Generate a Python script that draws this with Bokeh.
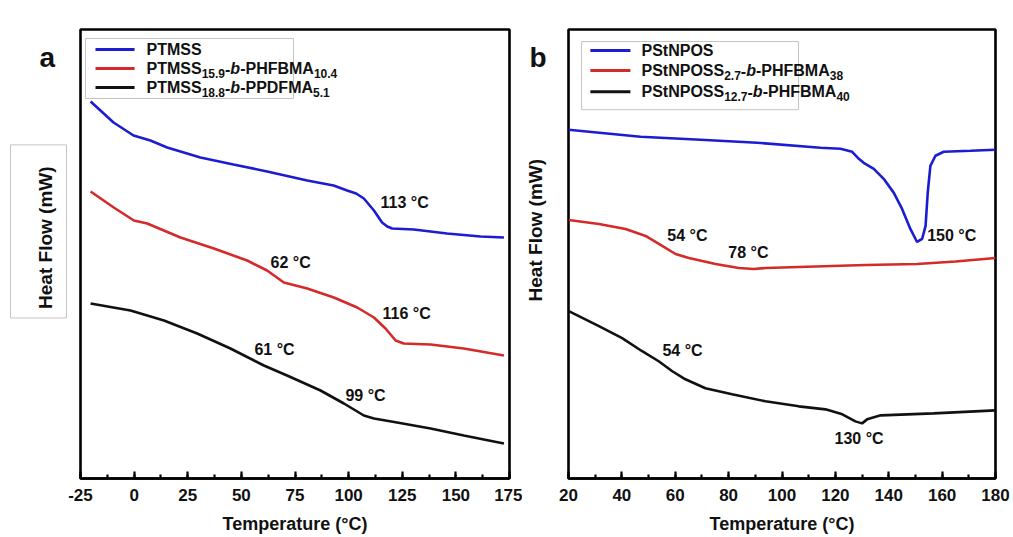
import numpy as np
from bokeh.plotting import figure
from bokeh.layouts import row
from bokeh.models import Range1d, SingleIntervalTicker, PrintfTickFormatter
from bokeh.core.properties import value
from bokeh.embed import file_html
from bokeh.resources import INLINE

# ---------------- data: panel a ----------------
a_temp_blue = [-20.3, -15.7, -9.6, -1.7, -0.3, 7.6, 15.4, 30.9, 46.3, 62, 80.7, 93, 99.3, 103.5,
               107.1, 111.8, 115.6, 118, 120.3, 130.4, 145.9, 161.5, 172.4]
a_hf_blue = [37.7, 36.8, 35.6, 34.5, 34.3, 33.8, 33.1, 32.1, 31.4, 30.7, 29.8, 29.3, 28.8, 28.5,
             28.0, 26.8, 25.6, 25.2, 25.0, 24.9, 24.5, 24.2, 24.1]
a_temp_red = [-20.3, -9.5, -0.1, 6.1, 21.6, 37.2, 52.7, 62.0, 69.8, 80.7, 93.1, 104.0, 111.8,
              117.2, 121.9, 125.7, 138.2, 153.7, 172.4]
a_hf_red = [28.7, 27.1, 25.8, 25.5, 24.1, 23.0, 21.8, 20.8, 19.6, 19.0, 18.1, 17.1, 16.1, 15.0,
            13.8, 13.5, 13.4, 13.0, 12.3]
a_temp_black = [-20.3, -1.7, 13.9, 29.4, 44.9, 60.5, 71.3, 86.9, 97.8, 107.1, 111.8, 122.6,
                138.2, 153.7, 172.4]
a_hf_black = [17.5, 16.8, 15.8, 14.5, 13.0, 11.3, 10.3, 8.8, 7.5, 6.3, 6.0, 5.6, 5.0, 4.3, 3.5]

a_names = [
    [("PTMSS", "n")],
    [("PTMSS", "n"), ("15.9", "s"), ("-", "n"), ("b", "i"), ("-PHFBMA", "n"), ("10.4", "s")],
    [("PTMSS", "n"), ("18.8", "s"), ("-", "n"), ("b", "i"), ("-PPDFMA", "n"), ("5.1", "s")],
]
a_notes = ["113 °C", "62 °C", "116 °C", "61 °C", "99 °C"]

# ---------------- data: panel b ----------------
b_temp_blue = [20, 47, 69.5, 90.7, 114.4, 121.9, 126.3, 128.8, 130.6, 134.4, 138.1, 141.9, 145.0,
               148.1, 150.6, 152.5, 153.8, 154.6, 155.6, 157.5, 160.6, 170.6, 180]
b_hf_blue = [34.8, 34.1, 33.8, 33.5, 33.0, 32.9, 32.6, 31.9, 31.5, 30.9, 29.9, 28.5, 26.9,
             24.9, 23.6, 23.9, 25.2, 28.5, 31.2, 32.2, 32.6, 32.7, 32.8]
b_temp_red = [20.1, 31.4, 41.4, 48.9, 55.1, 60.1, 65.1, 75.1, 83.8, 89.4, 93.8, 106.3, 131.3,
              150.6, 165, 180]
b_hf_red = [25.8, 25.4, 24.9, 24.2, 23.2, 22.4, 22.0, 21.4, 21.0, 20.9, 21.0, 21.1, 21.3,
            21.4, 21.65, 22.0]
b_temp_black = [20.1, 31.4, 40.1, 47.6, 53.8, 58.9, 63.8, 71.3, 81.3, 93.8, 106.3, 116.3, 122.6,
                127.5, 130, 131.9, 137, 156.8, 180]
b_hf_black = [16.7, 15.2, 14.0, 12.7, 11.7, 10.7, 9.9, 9.0, 8.4, 7.7, 7.2, 6.9, 6.4, 5.7, 5.5,
              5.9, 6.3, 6.5, 6.8]

b_names = [
    [("PStNPOS", "n")],
    [("PStNPOSS", "n"), ("2.7", "s"), ("-", "n"), ("b", "i"), ("-PHFBMA", "n"), ("38", "s")],
    [("PStNPOSS", "n"), ("12.7", "s"), ("-", "n"), ("b", "i"), ("-PHFBMA", "n"), ("40", "s")],
]
b_notes = ["150 °C", "54 °C", "78 °C", "54 °C", "130 °C"]

x_title = "Temperature (°C)"
y_title = "Heat Flow (mW)"

# ---------------- styles / positions ----------------
BLUE, RED, BLACK = "#1c1cd2", "#d42a2a", "#111111"
FONT = "Liberation Sans"
LW = 2.6
H = 537

# Arial-bold compatible advance widths (per 1000 em)
W = {"A": 722, "B": 722, "C": 722, "D": 722, "F": 611, "H": 722, "M": 833, "N": 722, "O": 778,
     "P": 667, "S": 667, "T": 611, "a": 556, "b": 611, "t": 333, ".": 278, "-": 333, " ": 278}
for d in "0123456789":
    W[d] = 556


def tw(s, size):
    return sum(W[c] for c in s) * size / 1000.0


def make_fig(width, xr, yr, interval, bl, br):
    p = figure(width=width, height=H, x_range=Range1d(*xr), y_range=Range1d(*yr),
               output_backend="svg", toolbar_location=None,
               min_border_left=bl, min_border_right=br, min_border_top=29, min_border_bottom=59)
    p.xgrid.visible = False
    p.ygrid.visible = False
    p.yaxis.visible = False
    p.outline_line_color = "black"
    p.outline_line_width = 2.6
    p.outline_line_alpha = 1
    p.background_fill_color = "white"
    p.border_fill_color = "white"
    ax = p.xaxis[0]
    ax.ticker = SingleIntervalTicker(interval=interval, num_minor_ticks=2)
    ax.formatter = PrintfTickFormatter(format="%d")
    ax.axis_line_width = 2.6
    ax.axis_line_color = "black"
    ax.major_tick_in = 7
    ax.major_tick_out = 0
    ax.minor_tick_in = 4
    ax.minor_tick_out = 0
    ax.major_tick_line_width = 2.2
    ax.minor_tick_line_width = 2.2
    ax.major_tick_line_color = "black"
    ax.minor_tick_line_color = "black"
    ax.major_label_text_font = FONT
    ax.major_label_text_font_style = "bold"
    ax.major_label_text_font_size = "17px"
    ax.major_label_text_color = "#111111"
    ax.major_label_standoff = 10
    ax.axis_label = x_title
    ax.axis_label_text_font = FONT
    ax.axis_label_text_font_style = "bold"
    ax.axis_label_text_font_size = "18px"
    ax.axis_label_text_color = "#111111"
    ax.axis_label_standoff = 10
    return p


def make_strip(width):
    # side strip (pixel coordinates) holding the panel letter and the y title
    s = figure(width=width, height=H, x_range=Range1d(0, width), y_range=Range1d(0, H),
               output_backend="svg", toolbar_location=None,
               min_border_left=0, min_border_right=0, min_border_top=0, min_border_bottom=0)
    s.xaxis.visible = False
    s.yaxis.visible = False
    s.xgrid.visible = False
    s.ygrid.visible = False
    s.outline_line_color = None
    s.background_fill_color = "white"
    s.border_fill_color = "white"
    return s


def strip_texts(s, letter, lx, ly, tx, ty, box=None):
    if box is not None:
        s.quad(left=[box[0]], right=[box[1]], bottom=[H - box[3]], top=[H - box[2]],
               fill_color=None, line_color="#c4c4c4", line_width=1)
    s.text(x=[lx], y=[H - ly], text=[letter], text_font=value(FONT), text_font_size="28px",
           text_font_style="bold", text_baseline="alphabetic", text_align="left",
           text_color="#111111")
    s.text(x=[tx], y=[H - ty], text=[y_title], angle=np.pi / 2, text_font=value(FONT),
           text_font_size="19px", text_font_style="bold", text_baseline="middle",
           text_align="center", text_color="#111111")


def draw_legend(p, box, line_x, rows_y, text_x, names, colors):
    p.quad(left=[box[0]], right=[box[1]], bottom=[box[2]], top=[box[3]],
           fill_color="white", line_color="#c4c4c4", line_width=1)
    for y, segs, c in zip(rows_y, names, colors):
        p.line(x=line_x, y=[y, y], line_color=c, line_width=3)
        off = 0.0
        for txt, st in segs:
            size = 12 if st == "s" else 16
            p.text(x=[text_x], y=[y], text=[txt], x_offset=off, y_offset=5 if st == "s" else 0,
                   text_font=value(FONT), text_font_size=f"{size}px",
                   text_font_style="bold italic" if st == "i" else "bold",
                   text_baseline="middle", text_align="left", text_color="#111111")
            off += tw(txt, size)


def draw_notes(p, xs, ys, notes):
    p.text(x=xs, y=ys, text=notes, text_font=value(FONT), text_font_size="16px",
           text_font_style="bold", text_baseline="middle", text_align="left",
           text_color="#111111")


# ---------------- left strip (letter a, boxed y title) ----------------
s1 = make_strip(67)
strip_texts(s1, "a", 39, 33, 45, 249, box=(10, 66, 138, 345))

# ---------------- panel a ----------------
pa = make_fig(455, (-25, 175), (0, 44.9), 25, 13, 13)
draw_legend(pa, (-22.7, 74.3, 38.0, 44.0), [-18.0, 0.2], [42.9, 41.0, 39.1], 5.8,
            a_names, [BLUE, RED, BLACK])
pa.line(a_temp_blue, a_hf_blue, line_color=BLUE, line_width=LW)
pa.line(a_temp_red, a_hf_red, line_color=RED, line_width=LW)
pa.line(a_temp_black, a_hf_black, line_color=BLACK, line_width=LW)
draw_notes(pa, [114.9, 63.6, 115.8, 56.1, 98.5], [27.6, 21.6, 16.5, 12.9, 8.3], a_notes)

# ---------------- middle strip (letter b, y title) ----------------
s2 = make_strip(34)
strip_texts(s2, "b", 7, 33, 12.5, 240)

# ---------------- panel b ----------------
pb = make_fig(457, (20, 180), (0, 44.8), 20, 12, 18)
draw_legend(pb, (24.9, 106.2, 36.8, 43.6), [28.2, 43.2], [42.7, 40.7, 38.6], 47.35,
            b_names, [BLUE, RED, BLACK])
pb.line(b_temp_blue, b_hf_blue, line_color=BLUE, line_width=LW)
pb.line(b_temp_red, b_hf_red, line_color=RED, line_width=LW)
pb.line(b_temp_black, b_hf_black, line_color=BLACK, line_width=LW)
draw_notes(pb, [154.4, 57.0, 79.9, 55.2, 119.7], [24.2, 24.2, 22.5, 12.8, 4.0], b_notes)

layout = row(s1, pa, s2, pb)
open("out.html", "w").write(file_html(layout, INLINE))
